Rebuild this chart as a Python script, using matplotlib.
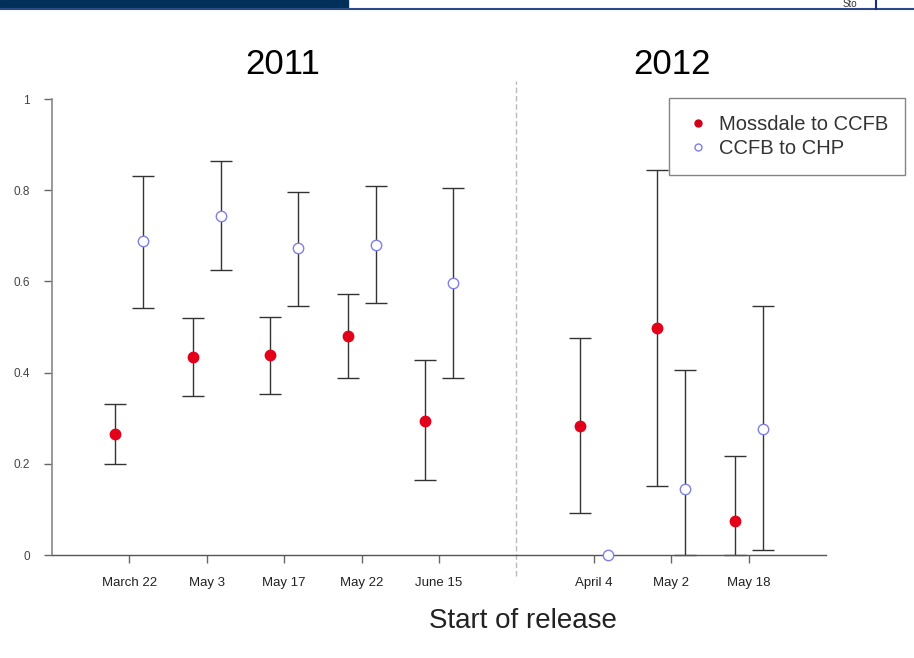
import numpy as np
import matplotlib
matplotlib.use("Agg")
import matplotlib.pyplot as plt
from matplotlib.patches import Rectangle
from matplotlib.lines import Line2D

plt.rcParams['font.family'] = ['Liberation Sans', 'DejaVu Sans']

# release groups
labels_2011 = ["March 22", "May 3", "May 17", "May 22", "June 15"]
labels_2012 = ["April 4", "May 2", "May 18"]

# Mossdale to CCFB survival (estimate, lower, upper)
moss_est = [0.265, 0.434, 0.439, 0.480, 0.294, 0.283, 0.498, 0.075]
moss_lo = [0.200, 0.349, 0.353, 0.388, 0.164, 0.092, 0.151, 0.000]
moss_hi = [0.331, 0.520, 0.522, 0.572, 0.428, 0.476, 0.844, 0.217]

# CCFB to CHP survival (estimate, lower, upper)
chp_est = [0.689, 0.743, 0.673, 0.680, 0.596, 0.000, 0.145, 0.276]
chp_lo = [0.542, 0.625, 0.546, 0.553, 0.388, 0.000, 0.000, 0.011]
chp_hi = [0.831, 0.864, 0.796, 0.809, 0.805, 0.000, 0.406, 0.546]

pos = np.array([1, 2, 3, 4, 5, 7, 8, 9], dtype=float)
off = 0.18

fig = plt.figure(figsize=(9.14, 6.58), dpi=100)
ax = fig.add_axes([52/914, 1-555/658, (826-52)/914, (555-99)/658])
ax.set_xlim(0, 10)
ax.set_ylim(0, 1)

def draw_series(x, est, lo, hi, **kw):
    est = np.array(est); lo = np.array(lo); hi = np.array(hi)
    for xi, e, l, h in zip(x, est, lo, hi):
        if h - l > 0:
            ax.errorbar(xi, e, yerr=[[e - l], [h - e]], fmt='none',
                        ecolor='#333333', elinewidth=1, capsize=8,
                        capthick=1, clip_on=False, zorder=2)
    ax.plot(x, est, linestyle='none', clip_on=False, zorder=3, **kw)

draw_series(pos - off, moss_est, moss_lo, moss_hi, marker='o', ms=7.5,
            mfc='#e3001b', mec='#e3001b')
draw_series(pos + off, chp_est, chp_lo, chp_hi, marker='o', ms=7.5,
            mfc='white', mec='#7f7fe8', mew=1)

# separator between years
ax.plot([6, 6], [-0.045, 1.04], color='#bbbbbb', lw=1, ls=(0, (4, 2)),
        clip_on=False, zorder=1)

ax.set_xticks(pos)
ax.set_xticklabels(labels_2011 + labels_2012, fontsize=9.5, color='#222222')
ax.set_yticks([0, 0.2, 0.4, 0.6, 0.8, 1])
ax.set_yticklabels(["0", "0.2", "0.4", "0.6", "0.8", "1"], fontsize=8.5,
                   color='#444444')
ax.tick_params(axis='both', length=6, width=1, color='#666666', pad=10)
for s in ['top', 'right']:
    ax.spines[s].set_visible(False)
ax.spines['left'].set_color('#888888')
ax.spines['left'].set_linewidth(1.2)
ax.spines['bottom'].set_color('#555555')
ax.spines['bottom'].set_linewidth(1)
ax.patch.set_visible(False)

fig.text(283/914, 1-65/658, "2011", fontsize=25, ha='center', va='center')
fig.text(672/914, 1-65/658, "2012", fontsize=25, ha='center', va='center')
fig.text(523/914, 1-621/658, "Start of release", fontsize=20,
         ha='center', va='center', color='#222222')

handles = [
    Line2D([], [], marker='o', ls='none', ms=5, mfc='#d0001b', mec='#d0001b'),
    Line2D([], [], marker='o', ls='none', ms=5, mfc='white', mec='#7f7fe8'),
]
leg = fig.legend(handles, ["Mossdale to CCFB", "CCFB to CHP"],
                 loc='upper right', bbox_to_anchor=(905/914, 1-98/658),
                 fontsize=14.5, frameon=True, fancybox=False,
                 handletextpad=0.4, borderpad=0.85, labelspacing=0.25,
                 handlelength=1.2, borderaxespad=0)
leg.get_frame().set_edgecolor('#666666')
leg.get_frame().set_linewidth(1)
for t in leg.get_texts():
    t.set_color('#333333')

# slide header strip
fig.patches.append(Rectangle((0, 1-8/658), 348/914, 8/658,
                             transform=fig.transFigure, color='#00305a'))
fig.add_artist(Line2D([0, 1], [1-9/658, 1-9/658], transform=fig.transFigure,
                      color='#2a4a8a', lw=1.5))
fig.add_artist(Line2D([876/914, 876/914], [1-9/658, 1], transform=fig.transFigure,
                      color='#1a2f80', lw=1.5))
fig.text(850/914, 1-9/658, "Sto", fontsize=7, ha='center', va='bottom',
         color='#333333')

fig.savefig("out.png", dpi=100)
